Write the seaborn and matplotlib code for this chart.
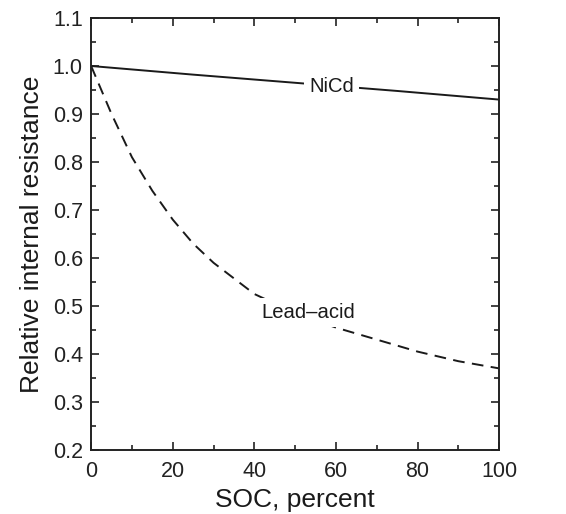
import pandas as pd
import matplotlib
matplotlib.use("Agg")
import matplotlib.pyplot as plt
from matplotlib.ticker import MultipleLocator
import seaborn as sns

# data
soc_nicd = [0, 25, 50, 75, 100]
res_nicd = [1.0, 0.982, 0.965, 0.948, 0.93]

soc_lead = [0, 5, 10, 15, 20, 25, 30, 40, 50, 60, 70, 80, 90, 100]
res_lead = [1.0, 0.9, 0.81, 0.74, 0.68, 0.63, 0.59, 0.525, 0.485, 0.455, 0.43, 0.405, 0.385, 0.37]

sns.set_style("ticks")
plt.rcParams['font.family'] = ['Liberation Sans', 'DejaVu Sans']

df_nicd = pd.DataFrame({'soc': soc_nicd, 'res': res_nicd})
df_lead = pd.DataFrame({'soc': soc_lead, 'res': res_lead})

fig = plt.figure(figsize=(5.66, 5.14), dpi=100)
ax = fig.add_axes([0.161, 0.1245, 0.721, 0.8405])

sns.lineplot(data=df_nicd, x='soc', y='res', ax=ax, color='#1a1a1a', linewidth=1.4)
sns.lineplot(data=df_lead, x='soc', y='res', ax=ax, color='#1a1a1a', linewidth=1.4,
             linestyle=(0, (6, 3.8)))

# curve labels with white box to break the line
box = dict(boxstyle='square,pad=0.25', fc='white', ec='none')
ax.text(59, 0.957, 'NiCd', fontsize=14.6, ha='center', va='center', color='#1a1a1a', bbox=box)
ax.text(53.2, 0.487, 'Lead\u2013acid', fontsize=14.6, ha='center', va='center', color='#1a1a1a', bbox=box)

ax.set_xlim(0, 100)
ax.set_ylim(0.2, 1.1)
ax.xaxis.set_major_locator(MultipleLocator(20))
ax.xaxis.set_minor_locator(MultipleLocator(10))
ax.yaxis.set_major_locator(MultipleLocator(0.1))
ax.yaxis.set_minor_locator(MultipleLocator(0.05))
ax.yaxis.set_major_formatter(matplotlib.ticker.FormatStrFormatter('%.1f'))

ax.tick_params(which='both', direction='in', top=True, right=True, colors='#222222', width=1.2)
ax.tick_params(which='major', length=6, labelsize=15.5, pad=6)
ax.tick_params(axis='x', which='major', pad=8)
ax.tick_params(which='minor', length=3.5)
for s in ax.spines.values():
    s.set_linewidth(1.4)
    s.set_color('#222222')

ax.set_xlabel('SOC, percent', fontsize=19, color='#1a1a1a', labelpad=4)
ax.set_ylabel('Relative internal resistance', fontsize=19, color='#1a1a1a', labelpad=6)

fig.savefig('out.png', dpi=100)
